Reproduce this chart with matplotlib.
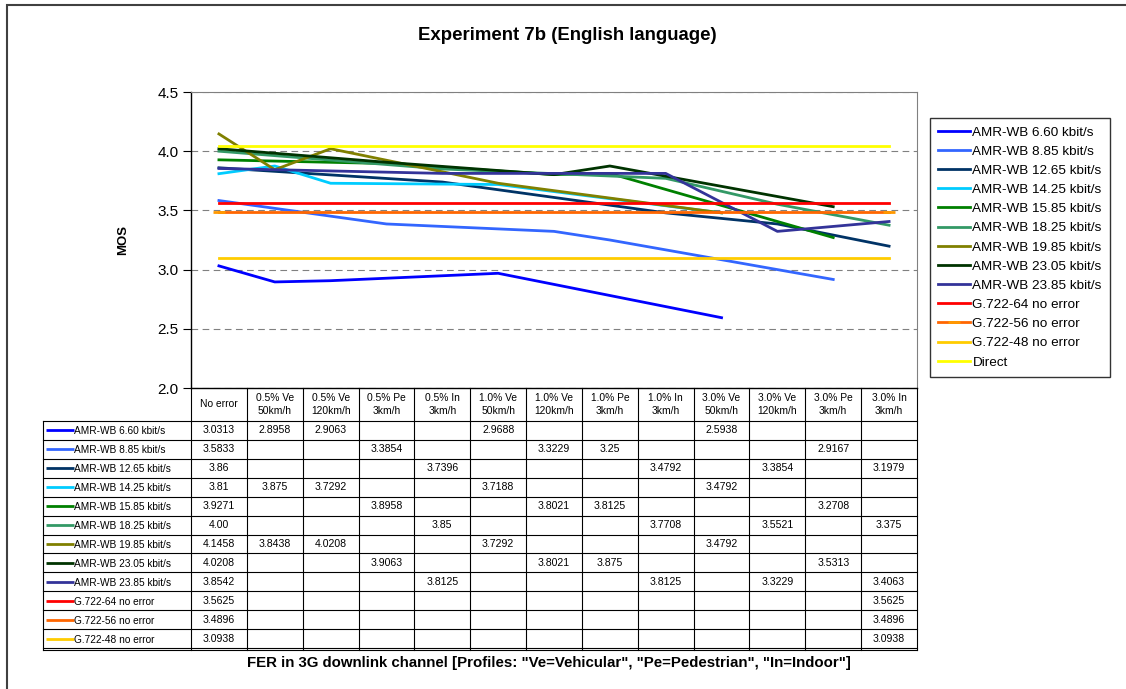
import matplotlib
matplotlib.use("Agg")
import numpy as np
from matplotlib import pyplot as plt
from matplotlib.patches import Rectangle

plt.rcParams['font.family'] = ['Liberation Sans', 'DejaVu Sans']

# Data (empty string = not measured)
categories = ["No error", "0.5% Ve\n50km/h", "0.5% Ve\n120km/h", "0.5% Pe\n3km/h",
              "0.5% In\n3km/h", "1.0% Ve\n50km/h", "1.0% Ve\n120km/h", "1.0% Pe\n3km/h",
              "1.0% In\n3km/h", "3.0% Ve\n50km/h", "3.0% Ve\n120km/h", "3.0% Pe\n3km/h",
              "3.0% In\n3km/h"]

amr_660 = ["3.0313", "2.8958", "2.9063", "", "", "2.9688", "", "", "", "2.5938", "", "", ""]
amr_885 = ["3.5833", "", "", "3.3854", "", "", "3.3229", "3.25", "", "", "", "2.9167", ""]
amr_1265 = ["3.86", "", "", "", "3.7396", "", "", "", "3.4792", "", "3.3854", "", "3.1979"]
amr_1425 = ["3.81", "3.875", "3.7292", "", "", "3.7188", "", "", "", "3.4792", "", "", ""]
amr_1585 = ["3.9271", "", "", "3.8958", "", "", "3.8021", "3.8125", "", "", "", "3.2708", ""]
amr_1825 = ["4.00", "", "", "", "3.85", "", "", "", "3.7708", "", "3.5521", "", "3.375"]
amr_1985 = ["4.1458", "3.8438", "4.0208", "", "", "3.7292", "", "", "", "3.4792", "", "", ""]
amr_2305 = ["4.0208", "", "", "3.9063", "", "", "3.8021", "3.875", "", "", "", "3.5313", ""]
amr_2385 = ["3.8542", "", "", "", "3.8125", "", "", "", "3.8125", "", "3.3229", "", "3.4063"]
g722_64 = ["3.5625"] + [""] * 11 + ["3.5625"]
g722_56 = ["3.4896"] + [""] * 11 + ["3.4896"]
g722_48 = ["3.0938"] + [""] * 11 + ["3.0938"]
direct = ["4.04"] + [""] * 11 + ["4.04"]   # not shown in the table

names = ["AMR-WB 6.60 kbit/s", "AMR-WB 8.85 kbit/s", "AMR-WB 12.65 kbit/s",
         "AMR-WB 14.25 kbit/s", "AMR-WB 15.85 kbit/s", "AMR-WB 18.25 kbit/s",
         "AMR-WB 19.85 kbit/s", "AMR-WB 23.05 kbit/s", "AMR-WB 23.85 kbit/s",
         "G.722-64 no error", "G.722-56 no error", "G.722-48 no error", "Direct"]
series = [amr_660, amr_885, amr_1265, amr_1425, amr_1585, amr_1825, amr_1985,
          amr_2305, amr_2385, g722_64, g722_56, g722_48, direct]
colors = ["#0000FF", "#3366FF", "#003366", "#00CCFF", "#008000", "#339966",
          "#808000", "#003300", "#333399", "#FF0000", "#FF6600", "#FFCC00", "#FFFF00"]

W, H = 1126, 689
fig = plt.figure(figsize=(W / 100, H / 100), dpi=100)

# outer chart frame (cut off at right and bottom)
fig.patches.append(Rectangle((7 / W, -0.1), 1.2, 1.1 - 5 / H, transform=fig.transFigure,
                             fill=False, edgecolor="#404040", linewidth=1.5))

ax = fig.add_axes([191 / W, 1 - 388 / H, 726 / W, 296 / H])
for name, vals, col in zip(names, series, colors):
    idx = [i for i, v in enumerate(vals) if v != ""]
    ys = [float(vals[i]) for i in idx]
    if name == "G.722-56 no error":
        ax.plot(idx, ys, color=col, lw=2.0, label=name, marker="_", ms=9, mew=2.0,
                mec="#FF9900")
    else:
        ax.plot(idx, ys, color=col, lw=2.0, label=name)

ax.set_xlim(-0.5, len(categories) - 0.5)
ax.set_ylim(2.0, 4.5)
ax.set_yticks(np.arange(2.0, 4.51, 0.5))
ax.set_yticklabels(["%.1f" % t for t in np.arange(2.0, 4.51, 0.5)], fontsize=11)
ax.set_xticks([])
ax.tick_params(axis="y", length=6, width=0.8, direction="out", pad=3)
ax.yaxis.grid(True, color="#808080", linestyle=(0, (6, 4)), linewidth=0.8)
ax.set_axisbelow(True)
for s in ["top", "right"]:
    ax.spines[s].set_color("#808080")
ax.spines["left"].set_linewidth(1.0)
ax.spines["bottom"].set_linewidth(1.0)
ax.set_ylabel("MOS", fontsize=9.5, fontweight="bold", labelpad=20)

fig.text(567 / W, 1 - 36 / H, "Experiment 7b (English language)", ha="center",
         va="center", fontsize=13.4, fontweight="bold")

leg = ax.legend(loc="upper left", bbox_to_anchor=(930 / W, 1 - 118 / H),
                bbox_transform=fig.transFigure, borderaxespad=0, fontsize=9.7,
                frameon=True, fancybox=False, edgecolor="black", handlelength=2.4,
                handletextpad=0.15, labelspacing=0.5, borderpad=0.6)
leg.get_frame().set_linewidth(1.0)

# data table below the plot, on the same x scale
header_h = 33 / 19
nrows = 12
total = header_h + nrows + 0.15
tax = fig.add_axes([191 / W, 1 - 651 / H, 726 / W, 263 / H])
tax.set_xlim(-0.5, len(categories) - 0.5)
tax.set_ylim(total, 0)
tax.axis("off")
left = -0.5 - 148 / 55.85
bottom = header_h + nrows
lc = "black"
for k in range(len(categories) + 1):
    tax.plot([k - 0.5, k - 0.5], [0, bottom + 0.12], color=lc, lw=0.8, clip_on=False)
tax.plot([left, left], [header_h, bottom + 0.12], color=lc, lw=0.8, clip_on=False)
for r in range(nrows + 1):
    tax.plot([left, len(categories) - 0.5], [header_h + r] * 2, color=lc, lw=0.8,
             clip_on=False)
tax.plot([left, len(categories) - 0.5], [bottom + 0.12] * 2, color=lc, lw=0.8,
         clip_on=False)

for i, c in enumerate(categories):
    tax.text(i, header_h / 2, c, ha="center", va="center", fontsize=7.4,
             linespacing=1.45)

for r, (name, vals, col) in enumerate(zip(names[:12], series[:12], colors[:12])):
    yc = header_h + r + 0.55
    tax.plot([left + 0.05, left + 0.55], [yc - 0.05] * 2, color=col, lw=2.0,
             clip_on=False, solid_capstyle="butt")
    tax.text(left + 0.56, yc, name, ha="left", va="center", fontsize=7.3)
    for i, v in enumerate(vals):
        if v != "":
            tax.text(i, yc - 0.05, v, ha="center", va="center", fontsize=7.6)

fig.text(549 / W, 1 - 663 / H,
         'FER in 3G downlink channel [Profiles: "Ve=Vehicular", "Pe=Pedestrian", "In=Indoor"]',
         ha="center", va="center", fontsize=10.8, fontweight="bold")

plt.savefig("out.png", dpi=100)
